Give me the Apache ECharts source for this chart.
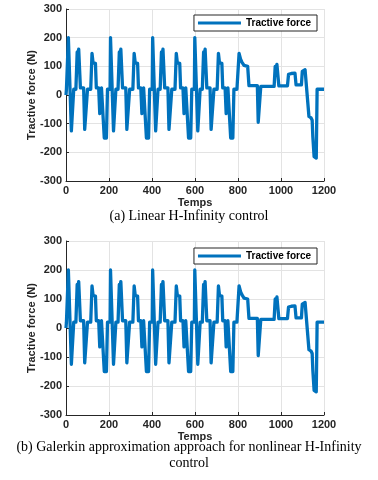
<!DOCTYPE html>
<html>
<head>
<meta charset="utf-8"/>
<title>Tractive force</title>
<script src="https://cdn.jsdelivr.net/npm/echarts@6/dist/echarts.min.js"></script>
<style>
  html, body { margin: 0; padding: 0; background: #fff; }
  #main { width: 378px; height: 480px; }
</style>
</head>
<body>
<div id="main"></div>
<script type="text/javascript">
// time (s) and tractive force (N)
var timeS = [
  0, 2, 9, 11, 18, 25, 32, 36, 46, 52, 55, 59, 63, 67, 82, 87, 95, 100, 115, 121, 126, 137, 141, 152, 157, 161, 165, 172, 178, 188, 193,
  205, 207, 214, 221, 228, 232, 242, 248, 251, 255, 259, 263, 278, 283, 291, 296, 311, 317, 322, 333, 337, 348, 353, 357, 361, 368, 374, 384, 389,
  401, 403, 410, 417, 424, 428, 438, 444, 447, 451, 455, 459, 474, 479, 487, 492, 507, 513, 518, 529, 533, 544, 549, 553, 557, 564, 570, 580, 585,
  597, 599, 606, 613, 620, 624, 634, 640, 643, 647, 651, 655, 670, 675, 683, 688, 703, 709, 714, 725, 729, 740, 745, 749, 753, 760, 766, 776, 781,
  795, 805, 812, 818, 828, 845, 851, 890, 894, 901, 906, 968, 973, 977, 981, 986, 990, 1030, 1035, 1048, 1065, 1070, 1095, 1099, 1106, 1112, 1119, 1122,
  1130, 1140, 1145, 1148, 1154, 1164, 1168, 1200
];
var forceN = [
  0, 20, 20, 200, 200, -125, -125, 20, 20, 150, 140, 160, 160, 25, 25, -120, -120, 20, 20, 145, 112, 110, 25, 25, -65, -65, 25, 25, -150, -150, 20,
  20, 200, 200, -125, -125, 20, 20, 150, 140, 160, 160, 25, 25, -120, -120, 20, 20, 145, 112, 110, 25, 25, -65, -65, 25, 25, -150, -150, 20,
  20, 200, 200, -125, -125, 20, 20, 150, 140, 160, 160, 25, 25, -120, -120, 20, 20, 145, 112, 110, 25, 25, -65, -65, 25, 25, -150, -150, 20,
  20, 200, 200, -125, -125, 20, 20, 150, 140, 160, 160, 25, 25, -120, -120, 20, 20, 145, 112, 110, 25, 25, -65, -65, 25, 25, -150, -150, 20,
  20, 145, 125, 115, 103, 100, 33, 33, -95, -95, 30, 30, 100, 92, 107, 105, 32, 32, 72, 75, 76, 35, 35, 82, 85, 88, 85, 85,
  -75, -80, -88, -145, -215, -220, 20, 20
];
var xTicks = [0, 200, 400, 600, 800, 1000, 1200];
var yTicks = [-300, -200, -100, 0, 100, 200, 300];
var seriesName = 'Tractive force';
var captionA = '(a) Linear H-Infinity control';
var captionB1 = '(b) Galerkin approximation approach for nonlinear H-Infinity';
var captionB2 = 'control';

var pts = [];
for (var i = 0; i < timeS.length; i++) pts.push([timeS[i], forceN[i]]);

var sans = "'Liberation Sans', Arial, sans-serif";
var serif = "'Liberation Serif', 'Times New Roman', serif";
var dark = '#262626';

function xAx(idx) {
  return {
    type: 'value', gridIndex: idx, min: xTicks[0], max: xTicks[xTicks.length - 1], interval: 200,
    name: 'Temps', nameLocation: 'middle', nameGap: 16, nameMoveOverlap: false,
    nameTextStyle: { fontFamily: sans, fontWeight: 'bold', fontSize: 11, color: dark },
    axisLine: { onZero: false, lineStyle: { color: dark, width: 1 } },
    axisTick: { inside: true, length: 3, lineStyle: { color: dark } },
    axisLabel: { fontFamily: sans, fontWeight: 'bold', fontSize: 11, color: dark, margin: 4,
                 formatter: function (v) { return String(v); } },
    splitLine: { show: true, lineStyle: { color: '#e3e3e3', width: 1 } }
  };
}
function yAx(idx) {
  return {
    type: 'value', gridIndex: idx, min: yTicks[0], max: yTicks[yTicks.length - 1], interval: 100,
    name: 'Tractive force (N)', nameLocation: 'middle', nameGap: 29, nameMoveOverlap: false,
    nameTextStyle: { fontFamily: sans, fontWeight: 'bold', fontSize: 11, color: dark },
    axisLine: { show: true, onZero: false, lineStyle: { color: dark, width: 1 } },
    axisTick: { show: true, inside: true, length: 3, lineStyle: { color: dark } },
    axisLabel: { fontFamily: sans, fontWeight: 'bold', fontSize: 11, color: dark, margin: 4,
                 formatter: function (v) { return String(v); } },
    splitLine: { show: true, lineStyle: { color: '#e3e3e3', width: 1 } }
  };
}
function leg(top) {
  return {
    data: [seriesName], right: 61, top: top, icon: 'rect', itemWidth: 43, itemHeight: 3,
    padding: [3, 6, 3, 4], borderColor: dark, borderWidth: 1, backgroundColor: '#fff',
    textStyle: { fontFamily: sans, fontWeight: 'bold', fontSize: 10, color: '#000' }
  };
}
function ser(idx) {
  return {
    name: seriesName, type: 'line', xAxisIndex: idx, yAxisIndex: idx, data: pts,
    showSymbol: false, symbol: 'none',
    lineStyle: { color: '#0072BD', width: 3.3, join: 'round' }, itemStyle: { color: '#0072BD' }
  };
}

var myChart = echarts.init(document.getElementById('main'));
var option = {
  animation: false,
  backgroundColor: '#fff',
  grid: [
    { left: 66, top: 9, width: 258, height: 172 },
    { left: 66, top: 241, width: 258, height: 174 }
  ],
  xAxis: [xAx(0), xAx(1)],
  yAxis: [yAx(0), yAx(1)],
  legend: [leg(15), leg(248)],
  series: [ser(0), ser(1)],
  graphic: [
    { type: 'text', left: 'center', top: 209, style: { text: captionA, font: '14px ' + serif, fill: '#000' } },
    { type: 'text', left: 'center', top: 440, style: { text: captionB1, font: '14px ' + serif, fill: '#000' } },
    { type: 'text', left: 'center', top: 456, style: { text: captionB2, font: '14px ' + serif, fill: '#000' } }
  ]
};
myChart.setOption(option);
</script>
</body>
</html>
